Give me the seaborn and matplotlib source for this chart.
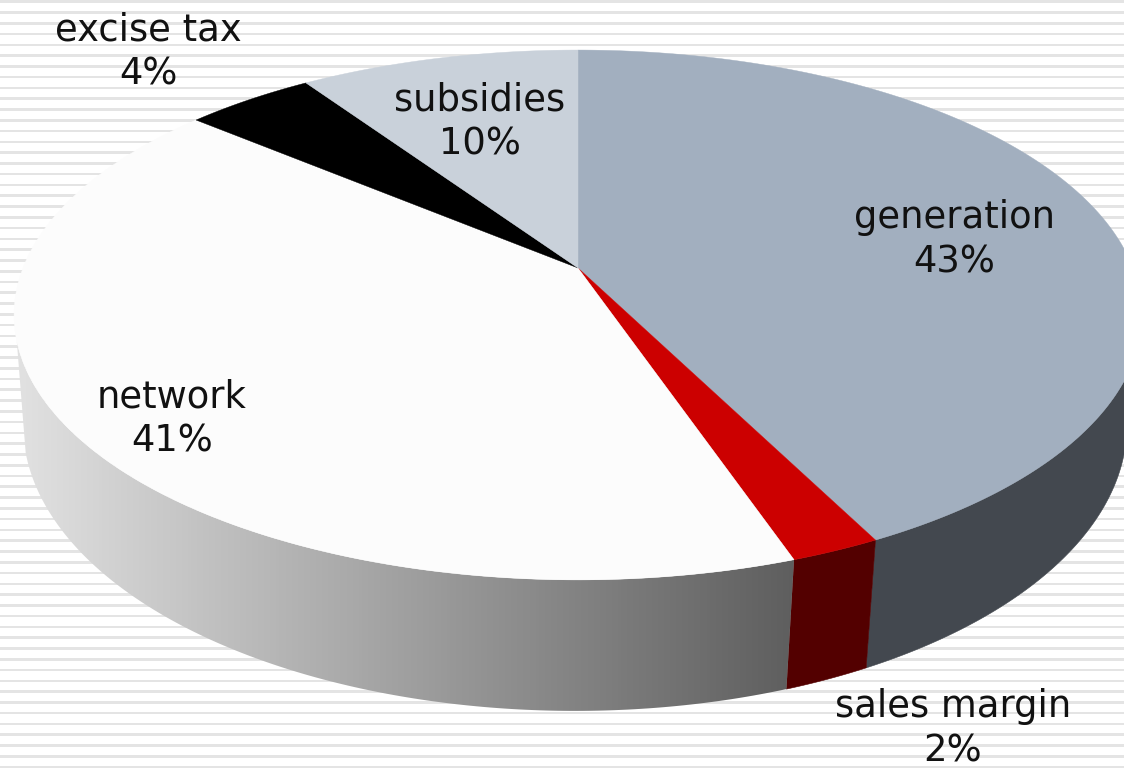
import numpy as np
import matplotlib.pyplot as plt
import seaborn as sns
from matplotlib.colors import LinearSegmentedColormap
from matplotlib.patches import Polygon

# values (printed labels are rounded)
categories = ["generation", "sales margin", "network", "excise tax", "subsidies"]
shares = [42.55, 2.2, 41.35, 4.4, 9.5]
share_labels = ["43%", "2%", "41%", "4%", "10%"]

top_colors = ["#a2afbf", "#cc0000", "#fcfcfc", "#000000", "#c9d1da"]
wall_colors = ["#43484f", "#530000", None, None, None]
label_xy = [(954, 240), (953, 729), (172, 419), (148, 52), (480, 122)]

W, H = 1124, 771
CX, CY = 578, 268  # pie centre on the top face
A, B, K = 555, 256.6, 0.1773  # perspective of the top face
# the visible wall runs between these turns of the circle
WALL_START, WALL_END = 0.2935, 0.7065

sns.set_style("white")
plt.rcParams["font.family"] = ["DejaVu Sans"]


def top_rim(f):
    # f is the clockwise fraction of the circle, from 12 o'clock
    t = 2 * np.pi * np.asarray(f)
    u, v = np.sin(t), np.cos(t)
    return CX + A * u / (1 + K * v), CY - B * v / (1 + K * v)


def bottom_rim(f):
    x, y = top_rim(f)
    return 575 + (x - 578) * 552 / 564, 425 + (y - 315) * 286 / 265


fig = plt.figure(figsize=(W / 100, H / 100), dpi=100)
ax = fig.add_axes([0, 0, 1, 1])
ax.axis("off")

# striped slide background
for y in np.arange(1.7, H, 10.78):
    ax.axhspan(y - 1.3, y + 1.3, color="#e4e4e4", lw=0)

bounds = np.cumsum([0] + shares) / sum(shares)

# side walls
grey_map = LinearSegmentedColormap.from_list("wall", ["#e2e2e2", "#5e5e5e"])
for i, cat in enumerate(categories):
    lo = max(bounds[i], WALL_START)
    hi = min(bounds[i + 1], WALL_END)
    if hi <= lo:
        continue
    fr = np.linspace(lo, hi, 150)
    tx, ty = top_rim(fr)
    bx, by = bottom_rim(fr)
    pts = np.column_stack([np.r_[tx, bx[::-1]], np.r_[ty, by[::-1]]])
    if wall_colors[i] is not None:
        ax.add_patch(Polygon(pts, closed=True, fc=wall_colors[i], ec=wall_colors[i], lw=0.4))
    else:
        clip = Polygon(pts, closed=True, fc="none", ec="none")
        ax.add_patch(clip)
        img = ax.imshow(
            np.linspace(0, 1, 256).reshape(1, -1),
            extent=(14, top_rim(lo)[0], H, 0),
            cmap=grey_map,
            aspect="auto",
            zorder=2,
        )
        img.set_clip_path(clip)

# top face
for i, cat in enumerate(categories):
    fr = np.linspace(bounds[i], bounds[i + 1], 200)
    tx, ty = top_rim(fr)
    pts = np.column_stack([np.r_[CX, tx], np.r_[CY, ty]])
    ax.add_patch(Polygon(pts, closed=True, fc=top_colors[i], ec=top_colors[i], lw=0.3, zorder=3))

for cat, lab, (x, y) in zip(categories, share_labels, label_xy):
    ax.text(x, y, f"{cat}\n{lab}", ha="center", va="center", fontsize=26.6,
            color="#111111", linespacing=1.25, zorder=4)

ax.set_xlim(0, W)
ax.set_ylim(H, 0)
fig.savefig("out.png", dpi=100, facecolor="white")
